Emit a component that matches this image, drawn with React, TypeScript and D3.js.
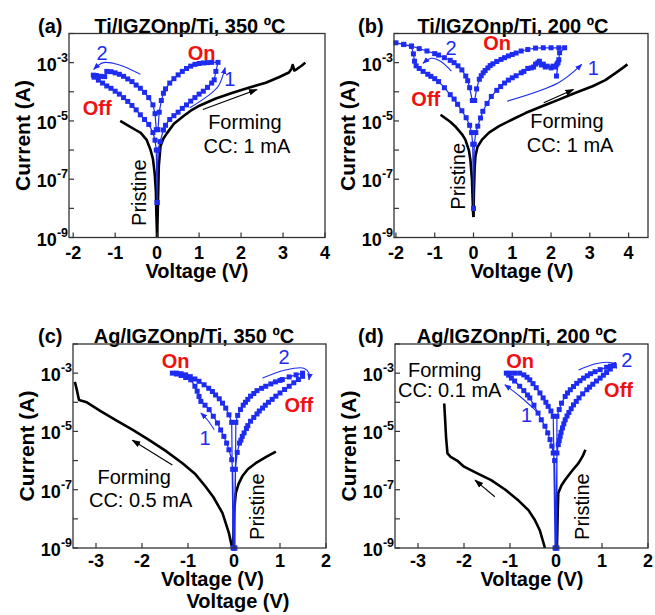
import React from "react";
import * as d3 from "d3";

// every point is [voltage (V), log10 of current (A)]
type Pt = [number, number];

const FONT = "'Liberation Sans', Arial, Helvetica, sans-serif";
const BLUE = "#1d2cf0";
const RED = "#f01010";

const yExponents = [-9, -8, -7, -6, -5, -4, -3, -2];
const yLabelExponents = [-9, -7, -5, -3];
const xTicksTop = [-2, -1, 0, 1, 2, 3, 4];
const xTicksBottom = [-3, -2, -1, 0, 1, 2];

// ---- (a) Ti/IGZOnp/Ti, 350 C
const aSweep: Pt[] = [
  [0.0, -7.8], [0.02, -6.0], [0.07, -5.71], [0.15, -5.31], [0.2, -5.15], [0.3, -4.95], [0.4, -4.82],
  [0.5, -4.7], [0.6, -4.57], [0.7, -4.45], [0.8, -4.32], [0.9, -4.2], [1.0, -4.08], [1.1, -3.98],
  [1.2, -3.85], [1.3, -3.7], [1.36, -3.59], [1.4, -3.3], [1.45, -2.99],
  [1.3, -2.99], [1.2, -3.0], [1.1, -3.01], [1.0, -3.03], [0.9, -3.06], [0.8, -3.12], [0.7, -3.2],
  [0.6, -3.3], [0.5, -3.42], [0.4, -3.55], [0.3, -3.7], [0.2, -3.9], [0.15, -4.05], [0.1, -4.3],
  [0.05, -4.7], [0.02, -5.3],
  [-0.02, -5.3], [-0.05, -4.75], [-0.1, -4.45], [-0.2, -4.2], [-0.3, -4.02], [-0.4, -3.88],
  [-0.5, -3.77], [-0.6, -3.65], [-0.7, -3.56], [-0.8, -3.47], [-0.9, -3.4], [-1.0, -3.35],
  [-1.1, -3.31], [-1.2, -3.3], [-1.25, -3.48], [-1.35, -3.47], [-1.45, -3.44], [-1.52, -3.43],
  [-1.5, -3.5], [-1.4, -3.6], [-1.3, -3.7], [-1.2, -3.8], [-1.1, -3.88], [-1.0, -3.98], [-0.9, -4.08],
  [-0.8, -4.2], [-0.7, -4.33], [-0.6, -4.47], [-0.5, -4.62], [-0.4, -4.79], [-0.3, -4.95],
  [-0.2, -5.12], [-0.1, -5.4], [-0.05, -5.66], [-0.02, -6.0], [0.0, -7.8],
];
const aBlackLeft: Pt[] = [
  [-0.88, -5.0], [-0.7, -5.15], [-0.5, -5.32], [-0.39, -5.41], [-0.25, -5.65], [-0.16, -5.98],
  [-0.1, -6.3], [-0.06, -6.78], [-0.03, -7.4], [-0.016, -8.3], [0, -9],
];
const aBlackRight: Pt[] = [
  [0, -9], [0.016, -8.05], [0.04, -6.55], [0.08, -5.87], [0.15, -5.6], [0.24, -5.41], [0.4, -5.1],
  [0.63, -4.83], [0.8, -4.65], [1.02, -4.47], [1.4, -4.23], [1.8, -4.03], [2.2, -3.85], [2.59, -3.69],
  [2.9, -3.5], [3.14, -3.34], [3.2, -3.22], [3.23, -3.08], [3.27, -3.27], [3.33, -3.22],
  [3.45, -3.1], [3.53, -3.0],
];

// ---- (b) Ti/IGZOnp/Ti, 200 C
const bSweep: Pt[] = [
  [0.0, -8.0], [0.02, -5.8], [0.06, -5.4], [0.11, -5.18], [0.18, -4.9], [0.24, -4.67], [0.35, -4.4],
  [0.46, -4.16], [0.6, -3.95], [0.7, -3.82], [0.8, -3.7], [0.9, -3.6], [1.0, -3.52], [1.1, -3.45],
  [1.23, -3.35], [1.3, -3.3], [1.4, -3.2], [1.49, -3.18], [1.55, -3.15], [1.6, -3.05], [1.66, -3.0],
  [1.7, -2.95], [1.75, -3.08], [1.8, -3.05], [1.85, -3.15], [1.9, -3.12], [2.0, -3.18], [2.05, -3.12],
  [2.1, -3.15], [2.15, -3.05], [2.18, -3.0], [2.14, -3.46], [2.2, -2.9], [2.22, -2.66], [2.35, -2.49],
  [2.2, -2.49], [2.0, -2.49], [1.8, -2.49], [1.6, -2.5], [1.4, -2.55], [1.23, -2.6], [1.1, -2.67],
  [1.0, -2.72], [0.9, -2.77], [0.8, -2.83], [0.71, -2.89], [0.6, -2.96], [0.5, -3.04], [0.43, -3.1],
  [0.37, -3.18], [0.3, -3.27], [0.25, -3.35], [0.2, -3.45], [0.15, -3.57], [0.08, -3.9], [0.03, -4.3],
  [-0.03, -4.3], [-0.1, -3.86], [-0.15, -3.62], [-0.2, -3.46], [-0.3, -3.25], [-0.4, -3.11],
  [-0.5, -3.0], [-0.6, -2.92], [-0.75, -2.83], [-0.9, -2.74], [-1.0, -2.69], [-1.2, -2.6],
  [-1.4, -2.52], [-1.6, -2.43], [-1.8, -2.37], [-2.0, -2.32],
  [-1.8, -2.38], [-1.6, -2.44], [-1.55, -2.7], [-1.52, -2.95], [-1.48, -3.11], [-1.4, -3.2],
  [-1.3, -3.3], [-1.18, -3.4], [-1.1, -3.47], [-1.0, -3.55], [-0.9, -3.65], [-0.75, -3.86],
  [-0.6, -4.1], [-0.5, -4.25], [-0.41, -4.43], [-0.3, -4.65], [-0.19, -4.89], [-0.1, -5.15],
  [-0.05, -5.4], [-0.02, -5.8], [0.0, -8.0],
];
const bBlackLeft: Pt[] = [
  [-0.85, -4.79], [-0.6, -5.03], [-0.47, -5.19], [-0.3, -5.45], [-0.21, -5.64], [-0.12, -6.0],
  [-0.08, -6.33], [-0.04, -7.0], [-0.01, -8.16], [0, -8.3],
];
const bBlackRight: Pt[] = [
  [0, -8.3], [0.01, -7.5], [0.03, -6.6], [0.05, -6.21], [0.1, -5.9], [0.22, -5.64], [0.4, -5.4],
  [0.66, -5.18], [1.0, -4.95], [1.34, -4.73], [1.8, -4.48], [2.2, -4.27], [2.6, -4.05], [3.07, -3.81],
  [3.4, -3.6], [3.67, -3.35], [3.85, -3.18], [3.97, -3.06],
];

// ---- (c) Ag/IGZOnp/Ti, 350 C
const cSweep: Pt[] = [
  [0.0, -9.0], [-0.03, -6.3], [-0.05, -5.97], [-0.11, -5.63], [-0.16, -5.4], [-0.22, -5.17],
  [-0.29, -4.95], [-0.36, -4.71], [-0.45, -4.48], [-0.54, -4.25], [-0.63, -4.1], [-0.72, -3.97],
  [-0.76, -3.8], [-0.8, -3.62], [-0.85, -3.45], [-0.94, -3.23], [-1.05, -3.15], [-1.15, -3.08],
  [-1.25, -3.03], [-1.34, -3.0],
  [-1.25, -3.0], [-1.15, -3.02], [-1.05, -3.06], [-0.95, -3.12], [-0.85, -3.2], [-0.76, -3.28],
  [-0.65, -3.4], [-0.55, -3.52], [-0.47, -3.63], [-0.4, -3.75], [-0.32, -3.88], [-0.25, -4.03],
  [-0.18, -4.2], [-0.11, -4.43], [-0.05, -4.69], [-0.02, -9.0],
  [0.02, -9.0], [0.04, -4.69], [0.08, -4.45], [0.14, -4.25], [0.2, -4.1], [0.25, -4.0], [0.3, -3.9],
  [0.36, -3.79], [0.43, -3.7], [0.5, -3.6], [0.6, -3.52], [0.69, -3.45], [0.8, -3.37], [0.9, -3.3],
  [1.0, -3.25], [1.05, -3.22], [1.2, -3.13], [1.35, -3.06], [1.49, -3.0],
  [1.49, -3.11], [1.4, -3.22], [1.3, -3.33], [1.2, -3.45], [1.1, -3.56], [1.0, -3.68], [0.91, -3.79],
  [0.83, -3.9], [0.75, -4.0], [0.68, -4.1], [0.62, -4.2], [0.55, -4.3], [0.5, -4.4], [0.43, -4.52],
  [0.36, -4.65], [0.3, -4.8], [0.27, -4.9], [0.22, -5.05], [0.18, -5.17], [0.15, -5.3], [0.12, -5.4],
  [0.07, -5.72], [0.03, -6.3], [0.0, -9.0],
];
const cBlackForming: Pt[] = [
  [-3.46, -3.3], [-3.42, -3.55], [-3.37, -3.92], [-3.2, -4.0], [-2.9, -4.3], [-2.57, -4.61],
  [-2.2, -4.95], [-1.85, -5.29], [-1.5, -5.65], [-1.12, -6.09], [-0.85, -6.45], [-0.62, -6.89],
  [-0.45, -7.25], [-0.25, -7.8], [-0.11, -8.49], [-0.04, -9.0],
];
const cBlackPristine: Pt[] = [
  [-0.02, -9], [0, -7.8], [0.04, -7.11], [0.1, -6.8], [0.18, -6.54], [0.3, -6.3], [0.47, -6.09],
  [0.7, -5.87], [0.91, -5.69],
];

// ---- (d) Ag/IGZOnp/Ti, 200 C
const dSweep: Pt[] = [
  [0.0, -9.0], [-0.03, -6.0], [-0.06, -5.74], [-0.09, -5.5], [-0.13, -5.28], [-0.18, -5.05],
  [-0.24, -4.82], [-0.32, -4.6], [-0.39, -4.37], [-0.48, -4.1], [-0.57, -3.85], [-0.62, -3.75],
  [-0.7, -3.6], [-0.79, -3.45], [-0.9, -3.27], [-0.97, -3.17], [-1.03, -3.07], [-1.08, -3.0],
  [-1.0, -3.0], [-0.9, -3.0], [-0.79, -3.0], [-0.7, -3.06], [-0.63, -3.14], [-0.57, -3.23],
  [-0.5, -3.36], [-0.43, -3.5], [-0.35, -3.68], [-0.28, -3.85], [-0.22, -4.0], [-0.17, -4.14],
  [-0.11, -4.3], [-0.06, -4.48], [-0.02, -9.0],
  [0.02, -9.0], [0.02, -4.48], [0.07, -4.25], [0.12, -4.03], [0.2, -3.8], [0.25, -3.68], [0.31, -3.57],
  [0.38, -3.46], [0.45, -3.35], [0.52, -3.26], [0.6, -3.17], [0.68, -3.09], [0.75, -3.02],
  [0.85, -2.95], [0.96, -2.88], [1.1, -2.8], [1.18, -2.76], [1.26, -2.72],
  [1.26, -2.75], [1.18, -2.86], [1.1, -2.98], [1.03, -3.07], [0.96, -3.17], [0.88, -3.27],
  [0.8, -3.38], [0.73, -3.48], [0.67, -3.57], [0.58, -3.71], [0.5, -3.85], [0.44, -3.97],
  [0.38, -4.09], [0.33, -4.22], [0.28, -4.35], [0.24, -4.47], [0.2, -4.6], [0.17, -4.74],
  [0.14, -4.88], [0.11, -5.03], [0.09, -5.17], [0.07, -5.31], [0.05, -5.45], [0.02, -5.74], [0.0, -9.0],
];
const dBlackForming: Pt[] = [
  [-2.43, -4.04], [-2.41, -4.6], [-2.39, -5.2], [-2.36, -5.75], [-2.29, -5.87], [-2.15, -6.0],
  [-2.0, -6.21], [-1.7, -6.45], [-1.41, -6.67], [-1.1, -7.0], [-0.83, -7.35], [-0.6, -7.7],
  [-0.46, -8.04], [-0.35, -8.4], [-0.24, -9.0],
];
const dBlackPristine: Pt[] = [
  [0.02, -9], [0.04, -7.6], [0.05, -7.11], [0.12, -6.85], [0.2, -6.66], [0.35, -6.35], [0.49, -6.09],
  [0.58, -5.85], [0.64, -5.63],
];

type Note = { t: string; at: Pt; kind: "red" | "blue" | "black" | "rot" };
type Arrow = { pts: Pt[]; color: string };

type PanelCfg = {
  tag: string; title: string; tagX: number; titleX: number;
  left: number; right: number; top: number; bottom: number;
  xDomain: [number, number]; xTicks: number[]; tickGap: number;
  xLabels: [number, number][];
  sweep: Pt[]; black: Pt[][]; notes: Note[]; arrows: Arrow[];
};

const panels: PanelCfg[] = [
  {
    tag: "(a)", title: "Ti/IGZOnp/Ti, 350 ºC", tagX: 38, titleX: 190,
    left: 69, right: 325, top: 33.5, bottom: 237.5, xDomain: [-2.1, 4], xTicks: xTicksTop, tickGap: 21,
    xLabels: [[197, 278]],
    sweep: aSweep, black: [aBlackLeft, aBlackRight],
    notes: [
      { t: "On", at: [1.06, -2.66], kind: "red" },
      { t: "Off", at: [-1.43, -4.54], kind: "red" },
      { t: "2", at: [-1.31, -2.66], kind: "blue" },
      { t: "1", at: [1.73, -3.57], kind: "blue" },
      { t: "Forming", at: [2.09, -5.02], kind: "black" },
      { t: "CC: 1 mA", at: [2.14, -5.85], kind: "black" },
      { t: "Pristine", at: [-0.43, -7.46], kind: "rot" },
    ],
    arrows: [
      { pts: [[-0.4, -3.4], [-0.9, -3.08], [-1.28, -3.0], [-1.51, -3.23]], color: BLUE },
      { pts: [[0.78, -4.55], [1.2, -4.15], [1.46, -3.8], [1.62, -3.17]], color: BLUE },
      { pts: [[1.09, -4.61], [2.38, -3.92]], color: "#000" },
    ],
  },
  {
    tag: "(b)", title: "Ti/IGZOnp/Ti, 200 ºC", tagX: 358, titleX: 513,
    left: 394, right: 648, top: 33.5, bottom: 237.5, xDomain: [-2.05, 4.5], xTicks: xTicksTop, tickGap: 21,
    xLabels: [[522, 278]],
    sweep: bSweep, black: [bBlackLeft, bBlackRight],
    notes: [
      { t: "On", at: [0.61, -2.31], kind: "red" },
      { t: "Off", at: [-1.23, -4.26], kind: "red" },
      { t: "2", at: [-0.58, -2.51], kind: "blue" },
      { t: "1", at: [3.09, -3.17], kind: "blue" },
      { t: "Forming", at: [2.41, -5.01], kind: "black" },
      { t: "CC: 1 mA", at: [2.49, -5.83], kind: "black" },
      { t: "Pristine", at: [-0.41, -6.9], kind: "rot" },
    ],
    arrows: [
      { pts: [[-0.57, -3.29], [-0.85, -2.95], [-1.09, -2.85], [-1.3, -3.02]], color: BLUE },
      { pts: [[0.87, -4.32], [2.19, -3.69], [2.79, -3.06]], color: BLUE },
      { pts: [[1.81, -4.38], [2.58, -3.92]], color: "#000" },
    ],
  },
  {
    tag: "(c)", title: "Ag/IGZOnp/Ti, 350 ºC", tagX: 38, titleX: 194,
    left: 73, right: 326, top: 344, bottom: 548, xDomain: [-3.5, 2], xTicks: xTicksBottom, tickGap: 19,
    xLabels: [[212.5, 586], [238, 608]],
    sweep: cSweep, black: [cBlackForming, cBlackPristine],
    notes: [
      { t: "On", at: [-1.27, -2.6], kind: "red" },
      { t: "Off", at: [1.41, -4.09], kind: "red" },
      { t: "2", at: [1.09, -2.43], kind: "blue" },
      { t: "1", at: [-0.63, -5.23], kind: "blue" },
      { t: "Forming", at: [-2.17, -6.56], kind: "black" },
      { t: "CC: 0.5 mA", at: [-2.03, -7.35], kind: "black" },
      { t: "Pristine", at: [0.5, -7.58], kind: "rot" },
    ],
    arrows: [
      { pts: [[0.62, -3.17], [1.12, -2.89], [1.52, -2.83], [1.63, -3.0], [1.63, -3.23]], color: BLUE },
      { pts: [[-0.43, -4.94], [-0.58, -4.6], [-0.72, -4.37]], color: BLUE },
      { pts: [[-1.34, -6.15], [-2.21, -5.3]], color: "#000" },
    ],
  },
  {
    tag: "(d)", title: "Ag/IGZOnp/Ti, 200 ºC", tagX: 358, titleX: 517,
    left: 395, right: 648, top: 344, bottom: 548, xDomain: [-3.5, 2], xTicks: xTicksBottom, tickGap: 19,
    xLabels: [[532, 586]],
    sweep: dSweep, black: [dBlackForming, dBlackPristine],
    notes: [
      { t: "On", at: [-0.78, -2.6], kind: "red" },
      { t: "Off", at: [1.36, -3.58], kind: "red" },
      { t: "2", at: [1.54, -2.55], kind: "blue" },
      { t: "1", at: [-0.64, -4.43], kind: "blue" },
      { t: "Forming", at: [-2.42, -2.9], kind: "black" },
      { t: "CC: 0.1 mA", at: [-2.31, -3.58], kind: "black" },
      { t: "Pristine", at: [0.57, -7.58], kind: "rot" },
    ],
    arrows: [
      { pts: [[0.49, -2.89], [0.89, -2.67], [1.21, -2.65], [1.32, -2.83]], color: BLUE },
      { pts: [[-0.42, -4.31], [-0.78, -3.8], [-1.11, -3.4]], color: BLUE },
      { pts: [[-1.33, -7.24], [-1.76, -6.67]], color: "#000" },
    ],
  },
];

function Panel({ cfg }: { cfg: PanelCfg }) {
  const x = d3.scaleLinear().domain(cfg.xDomain).range([cfg.left, cfg.right]);
  const y = d3.scaleLog().domain([1e-9, 1e-2]).range([cfg.bottom, cfg.top]);
  const px = (p: Pt) => x(p[0]);
  const py = (p: Pt) => y(Math.pow(10, p[1]));
  const straight = d3.line<Pt>().x(px).y(py);
  const smooth = d3.line<Pt>().x(px).y(py).curve(d3.curveCatmullRom);
  const midY = (cfg.top + cfg.bottom) / 2;
  const sq = 5;

  return (
    <g>
      <text x={cfg.tagX} y={cfg.top - 1} fontSize={20} fontWeight="bold">{cfg.tag}</text>
      <text x={cfg.titleX} y={cfg.top - 1} fontSize={20} fontWeight="bold" textAnchor="middle">
        {cfg.title}
      </text>

      {cfg.black.map((c, i) => (
        <path key={i} d={straight(c) || ""} fill="none" stroke="#000" strokeWidth={2.6}
          strokeLinejoin="round" />
      ))}

      <path d={straight(cfg.sweep) || ""} fill="none" stroke={BLUE} strokeWidth={1.2} />
      {cfg.sweep.map((p, i) => (
        <rect key={i} x={px(p) - sq / 2} y={py(p) - sq / 2} width={sq} height={sq} fill={BLUE} />
      ))}

      {cfg.arrows.map((a, i) => (
        <path key={i} d={(a.pts.length > 2 ? smooth(a.pts) : straight(a.pts)) || ""} fill="none"
          stroke={a.color} strokeWidth={1.1}
          markerEnd={a.color === BLUE ? "url(#headBlue)" : "url(#headBlack)"} />
      ))}

      {cfg.notes.map((n, i) => {
        const cx = px(n.at), cy = py(n.at);
        if (n.kind === "rot") {
          return (
            <text key={i} transform={`translate(${cx},${cy}) rotate(-90)`} fontSize={20}
              textAnchor="middle" dominantBaseline="central">{n.t}</text>
          );
        }
        return (
          <text key={i} x={cx} y={cy} textAnchor="middle" dominantBaseline="central" fontSize={20}
            fontWeight={n.kind === "red" ? "bold" : "normal"}
            fill={n.kind === "red" ? RED : n.kind === "blue" ? BLUE : "#000"}>{n.t}</text>
        );
      })}

      <rect x={cfg.left} y={cfg.top} width={cfg.right - cfg.left} height={cfg.bottom - cfg.top}
        fill="none" stroke="#333" strokeWidth={1.3} />

      {cfg.xTicks.map((t) => (
        <g key={t}>
          <line x1={x(t)} x2={x(t)} y1={cfg.bottom} y2={cfg.bottom - 5} stroke="#333" strokeWidth={1.2} />
          <text x={x(t)} y={cfg.bottom + cfg.tickGap} fontSize={18} fontWeight="bold" textAnchor="middle">
            {t < 0 ? `-${-t}` : t}
          </text>
        </g>
      ))}

      {yExponents.map((e) => (
        <line key={e} x1={cfg.left} x2={cfg.left + 5} y1={y(Math.pow(10, e))} y2={y(Math.pow(10, e))}
          stroke="#333" strokeWidth={1.2} />
      ))}
      {yLabelExponents.map((e) => (
        <text key={e} x={cfg.left - 1} y={y(Math.pow(10, e)) + 8} fontSize={18} fontWeight="bold"
          textAnchor="end">
          10<tspan dy={-9} fontSize={12.5}>{`-${-e}`}</tspan>
        </text>
      ))}

      <text transform={`translate(${cfg.left - 47},${midY}) rotate(-90)`} fontSize={21}
        fontWeight="bold" textAnchor="middle" dominantBaseline="central">Current (A)</text>
      {cfg.xLabels.map(([lx, ly], i) => (
        <text key={i} x={lx} y={ly} fontSize={20} fontWeight="bold" textAnchor="middle">Voltage (V)</text>
      ))}
    </g>
  );
}

export default function App() {
  return (
    <svg width={655} height={615} style={{ position: "absolute", left: 0, top: 0, background: "#fff" }}
      fontFamily={FONT}>
      <defs>
        <marker id="headBlue" viewBox="0 0 10 10" refX={9} refY={5} markerWidth={7} markerHeight={7}
          orient="auto" markerUnits="userSpaceOnUse">
          <path d="M0,1 L10,5 L0,9 z" fill={BLUE} />
        </marker>
        <marker id="headBlack" viewBox="0 0 10 10" refX={9} refY={5} markerWidth={9} markerHeight={9}
          orient="auto" markerUnits="userSpaceOnUse">
          <path d="M0,1.5 L10,5 L0,8.5 z" fill="#000" />
        </marker>
      </defs>
      <rect width={655} height={615} fill="#fff" />
      {panels.map((p) => (
        <Panel key={p.tag} cfg={p} />
      ))}
    </svg>
  );
}
